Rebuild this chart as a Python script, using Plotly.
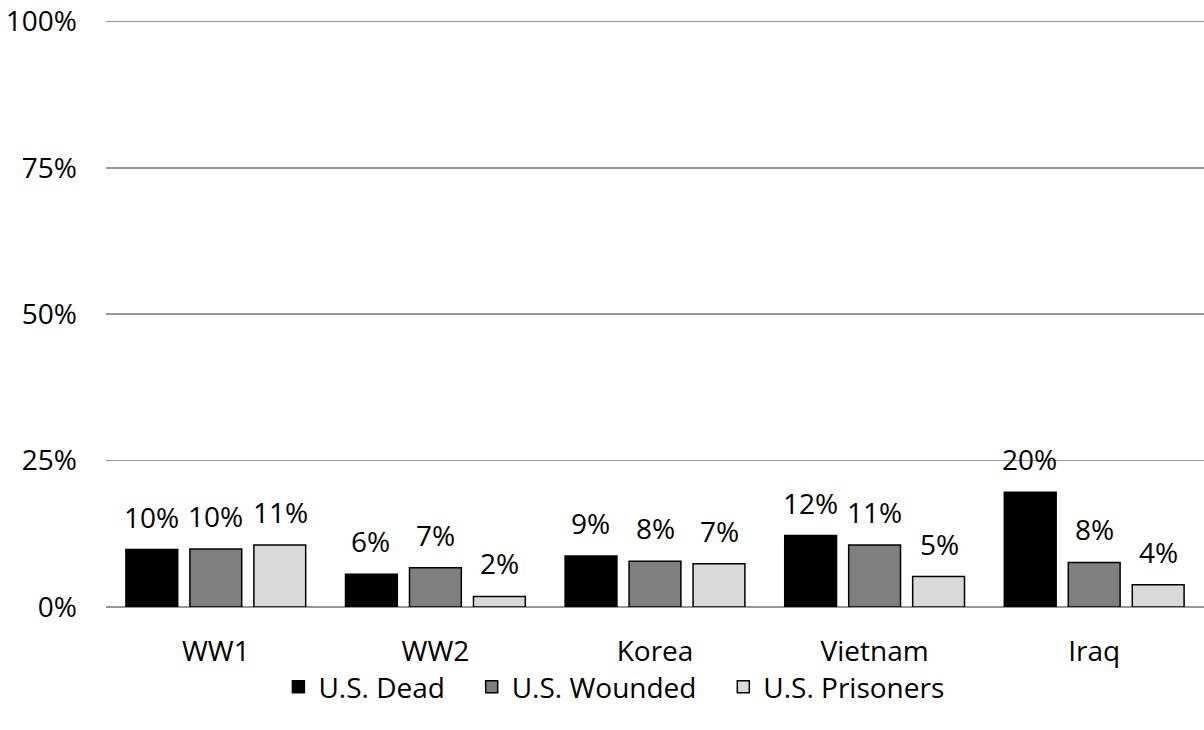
import plotly.graph_objects as go

categories = ["WW1", "WW2", "Korea", "Vietnam", "Iraq"]
series_names = ["U.S. Dead", "U.S. Wounded", "U.S. Prisoners"]
dead = [0.098, 0.056, 0.087, 0.122, 0.196]
wounded = [0.099, 0.067, 0.078, 0.106, 0.076]
prisoners = [0.106, 0.018, 0.074, 0.052, 0.038]
y_ticks = [0, 0.25, 0.5, 0.75, 1.0]

colors = ["#000000", "#7f7f7f", "#d9d9d9"]
series_values = [dead, wounded, prisoners]

FONT = "Open Sans"
FS = 28
PAD = "\u00a0" * 3  # extra legend spacing between entries

fig = go.Figure()
for name, vals, col in zip(series_names, series_values, colors):
    fig.add_trace(go.Bar(
        x=categories, y=vals, name=name + PAD,
        marker=dict(color=col, line=dict(color="#000000", width=1.5)),
        hoverinfo="skip",
    ))

# data labels as annotations above each bar
slot_px = 64.5
for i, vals in enumerate(series_values):
    for c, v in zip(categories, vals):
        fig.add_annotation(
            x=c, y=v, xref="x", yref="y",
            text=f"{round(v*100):.0f}%",
            showarrow=False, yanchor="bottom",
            xshift=(i - 1) * slot_px, yshift=12,
            font=dict(family=FONT, size=FS, color="#000000"),
        )

fig.update_layout(
    width=1204, height=730,
    margin=dict(l=106, r=0, t=19, b=123, autoexpand=False),
    paper_bgcolor="white", plot_bgcolor="white",
    barmode="group", bargap=0.126, bargroupgap=0.19,
    font=dict(family=FONT, size=FS, color="#000000"),
    showlegend=True,
    legend=dict(orientation="h", x=0.157, xanchor="left", y=-0.136, yanchor="middle",
                font=dict(family=FONT, size=FS), itemwidth=30, traceorder="normal"),
)
fig.update_xaxes(showgrid=False, showline=False, zeroline=False, ticks="",
                 automargin=False,
                 ticklabelstandoff=25, tickfont=dict(family=FONT, size=FS))
fig.update_yaxes(range=[0, 1.004], tickvals=y_ticks, tickformat=".0%",
                 automargin=False,
                 showgrid=True, gridcolor="#979797", gridwidth=1.5,
                 zeroline=True, zerolinecolor="#979797", zerolinewidth=1.5,
                 showline=False, ticks="", ticklabelstandoff=28,
                 tickfont=dict(family=FONT, size=FS))

fig.write_html("out.html", config={"displayModeBar": False, "staticPlot": True},
               post_script="document.body.style.margin='0';document.body.style.overflow='hidden';")
